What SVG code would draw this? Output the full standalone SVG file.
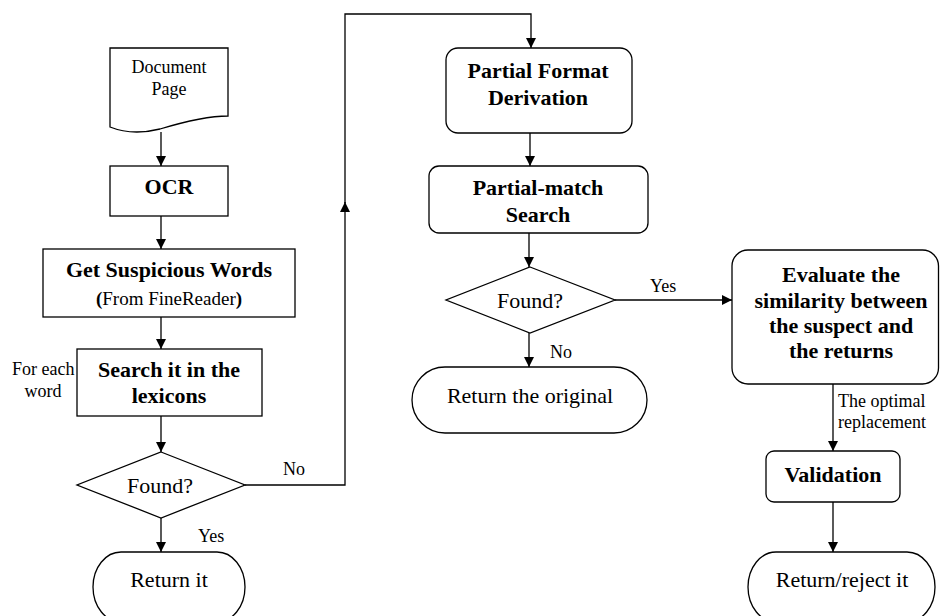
<svg xmlns="http://www.w3.org/2000/svg" width="940" height="616" viewBox="0 0 940 616">
<defs>
<marker id="arr" markerUnits="userSpaceOnUse" markerWidth="11" markerHeight="11" refX="10" refY="5" orient="auto">
<path d="M0,0 L10,5 L0,10 Z" fill="#000"/>
</marker>
<style>
.s{fill:#fff;stroke:#000;stroke-width:1.3}
.c{fill:none;stroke:#000;stroke-width:1.3;marker-end:url(#arr)}
.l{fill:none;stroke:#000;stroke-width:1.3}
text{font-family:"Liberation Serif","Times New Roman",serif;fill:#000}
.b{font-weight:bold;font-size:22px;text-anchor:middle}
.r{font-size:22px;text-anchor:middle}
.m{font-size:18px}
</style>
</defs>
<rect width="940" height="616" fill="#fff"/>
<g id="connectors">
<path class="c" d="M161,132 V166"/>
<path class="c" d="M161,216 V249"/>
<path class="c" d="M161,317 V349"/>
<path class="c" d="M161,416 V452"/>
<path class="c" d="M161,518 V552"/>
<path class="c" d="M245,485 H345 V202"/>
<path class="c" d="M345,203 V14 H531 V48"/>
<path class="c" d="M530,133 V166"/>
<path class="c" d="M529,233 V267"/>
<path class="c" d="M529,333 V367"/>
<path class="c" d="M615,300 H732"/>
<path class="c" d="M833,384 V451"/>
<path class="c" d="M833,502 V552"/>
<text class="m" x="283" y="475">No</text>
<text class="m" x="198" y="542">Yes</text>
<text class="m" x="550" y="358">No</text>
<text class="m" x="650" y="292">Yes</text>
<text class="m" x="838" y="407">The optimal</text>
<text class="m" x="838" y="428">replacement</text>
<text class="m" x="12" y="375">For each</text>
<text class="m" x="43" y="397" text-anchor="middle">word</text>
</g>
<g id="doc">
<path class="s" d="M110,48 H228 V116 C205,116 180,123 160,129 C140,134 125,133 110,127 Z"/>
<text class="m" x="169" y="73" text-anchor="middle">Document</text>
<text class="m" x="169" y="95" text-anchor="middle">Page</text>
</g>
<g id="ocr">
<rect class="s" x="110" y="166" width="118" height="50"/>
<text class="b" x="169" y="194">OCR</text>
</g>
<g id="getwords">
<rect class="s" x="43" y="249" width="252" height="68"/>
<text class="b" x="169" y="277">Get Suspicious Words</text>
<text x="169" y="305" text-anchor="middle" font-size="19"><tspan font-weight="bold">(</tspan>From FineReader<tspan font-weight="bold">)</tspan></text>
</g>
<g id="search">
<rect class="s" x="77" y="349" width="185" height="67"/>
<text class="b" x="169" y="377">Search it in the</text>
<text class="b" x="169" y="403">lexicons</text>
</g>
<g id="found1">
<path class="s" d="M161,452 L245,485 L161,518 L77,485 Z"/>
<text class="r" x="160" y="493">Found?</text>
</g>
<g id="returnit">
<rect class="s" x="93" y="552" width="152" height="70" rx="28" ry="35"/>
<text class="r" x="169" y="587">Return it</text>
</g>
<g id="partialformat">
<rect class="s" x="446" y="48" width="186" height="85" rx="12"/>
<text class="b" x="538" y="78">Partial Format</text>
<text class="b" x="538" y="105">Derivation</text>
</g>
<g id="partialmatch">
<rect class="s" x="429" y="166" width="219" height="67" rx="10"/>
<text class="b" x="538" y="195">Partial-match</text>
<text class="b" x="538" y="222">Search</text>
</g>
<g id="found2">
<path class="s" d="M530,267 L615,300 L530,333 L446,300 Z"/>
<text class="r" x="530" y="308">Found?</text>
</g>
<g id="returnoriginal">
<rect class="s" x="412" y="367" width="235" height="66" rx="33"/>
<text class="r" x="530" y="403">Return the original</text>
</g>
<g id="evaluate">
<rect class="s" x="732" y="250" width="206.5" height="134" rx="16"/>
<text class="b" x="841" y="282">Evaluate the</text>
<text class="b" x="841" y="308">similarity between</text>
<text class="b" x="841" y="333">the suspect and</text>
<text class="b" x="841" y="358">the returns</text>
</g>
<g id="validation">
<rect class="s" x="766" y="451" width="134" height="51" rx="8"/>
<text class="b" x="833" y="482">Validation</text>
</g>
<g id="returnreject">
<rect class="s" x="748" y="552" width="187" height="70" rx="28" ry="35"/>
<text class="r" x="842" y="587">Return/reject it</text>
</g>
</svg>
